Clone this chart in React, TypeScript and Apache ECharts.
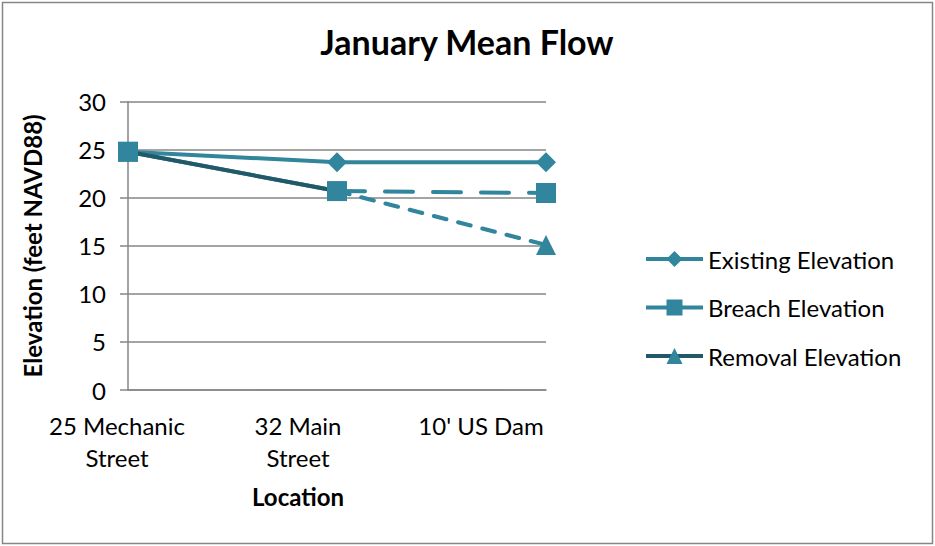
import React, { useEffect, useRef } from "react";
import * as echarts from "echarts";

const categories = ["25 Mechanic\nStreet", "32 Main\nStreet", "10' US Dam"];
const existing = [24.8, 23.7, 23.7];
const breach = [24.8, 20.7, 20.5];
const removal = [24.8, 20.7, 15.1];
const yTicks = { min: 0, max: 30, interval: 5 };
const seriesNames = ["Existing Elevation", "Breach Elevation", "Removal Elevation"];

const TEAL = "#31859C";
const DARK = "#215968";
const GRAY = "#868686";
const FONT = "Lato";
const FS = 24;
const labelShift = [22, 78, 130];

// first segment / second segment helpers built from the arrays
const seg1 = (a: number[]) => a.map((v, i) => (i <= 1 ? v : "-"));
const seg2 = (a: number[]) => a.map((v, i) => (i >= 1 ? v : "-"));

export default function App() {
  const ref = useRef<HTMLDivElement>(null);
  useEffect(() => {
    const chart = echarts.init(ref.current!, undefined, { renderer: "svg" });
    const lineOnly = (name: string, data: any[], color: string, type: any, z = 2) => ({
      name,
      type: "line",
      data,
      symbol: "none",
      z,
      lineStyle: { color, width: 4, type, cap: "round" },
      silent: true,
    });
    const markers = (name: string, data: number[], symbol: string) => ({
      name,
      type: "line",
      data,
      symbol,
      symbolSize: 20,
      showSymbol: true,
      z: 3,
      itemStyle: { color: TEAL, borderWidth: 0 },
      lineStyle: { width: 0, opacity: 0, color: TEAL },
    });
    const rich = (i: number) => ({
      fontFamily: FONT,
      fontSize: FS,
      color: "#000",
      lineHeight: 32,
      padding: [0, labelShift[i], 0, 0],
    });
    chart.setOption({
      animation: false,
      backgroundColor: "#fff",
      textStyle: { fontFamily: FONT },
      title: {
        text: "January Mean Flow",
        left: 467,
        textAlign: "center",
        top: 24,
        padding: 0,
        textStyle: { fontFamily: FONT, fontWeight: "bold", fontSize: 34, color: "#000" },
      },
      graphic: [
        {
          type: "rect",
          shape: { x: 2.5, y: 2.5, width: 930, height: 541 },
          style: { fill: "none", stroke: GRAY, lineWidth: 1.5 },
          silent: true,
        },
      ],
      legend: {
        left: 644,
        top: 247,
        padding: 0,
        orient: "vertical",
        itemWidth: 57,
        itemHeight: 20,
        itemGap: 24.5,
        textStyle: { fontFamily: FONT, fontSize: FS, color: "#000", lineHeight: 20 },
        data: [
          { name: seriesNames[0], lineStyle: { color: TEAL, width: 4, opacity: 1, type: "solid" } },
          { name: seriesNames[1], lineStyle: { color: TEAL, width: 4, opacity: 1, type: "solid" } },
          { name: seriesNames[2], lineStyle: { color: DARK, width: 4, opacity: 1, type: "solid" } },
        ],
      },
      grid: { left: 128, right: 389, top: 101.7, bottom: 156, containLabel: false },
      xAxis: {
        type: "category",
        data: categories,
        boundaryGap: false,
        name: "Location",
        nameLocation: "middle",
        nameGap: 94,
        nameTextStyle: {
          fontFamily: FONT,
          fontWeight: "bold",
          fontSize: FS,
          color: "#000",
          padding: [0, 78, 0, 0],
        },
        axisLine: { lineStyle: { color: GRAY, width: 1.5 } },
        axisTick: { show: false },
        axisLabel: {
          margin: 19,
          interval: 0,
          formatter: (v: string, i: number) =>
            v
              .split("\n")
              .map((s) => `{c${i}|${s}}`)
              .join("\n"),
          rich: { c0: rich(0), c1: rich(1), c2: rich(2) },
        },
        splitLine: { show: false },
      },
      yAxis: {
        type: "value",
        min: yTicks.min,
        max: yTicks.max,
        interval: yTicks.interval,
        name: "Elevation (feet NAVD88)",
        nameLocation: "middle",
        nameRotate: 90,
        nameGap: 84,
        nameTextStyle: { fontFamily: FONT, fontWeight: "bold", fontSize: FS, color: "#000" },
        axisLine: { show: true, lineStyle: { color: GRAY, width: 1.5 } },
        axisTick: { show: true, length: 8, lineStyle: { color: GRAY, width: 1.5 } },
        axisLabel: { margin: 22, fontFamily: FONT, fontSize: FS, color: "#000" },
        splitLine: { show: true, lineStyle: { color: GRAY, width: 1.5 } },
      },
      series: [
        lineOnly("l-existing", existing, TEAL, "solid"),
        lineOnly("l-breach1", seg1(breach), TEAL, "solid"),
        lineOnly("l-removal1", seg1(removal), DARK, "solid"),
        lineOnly("l-breach2", seg2(breach), TEAL, [28, 20]),
        lineOnly("l-removal2", seg2(removal), TEAL, [13, 12]),
        markers(seriesNames[0], existing, "diamond"),
        markers(seriesNames[2], removal, "triangle"),
        markers(seriesNames[1], breach, "rect"),
      ],
    });
    return () => chart.dispose();
  }, []);
  return (
    <div
      ref={ref}
      style={{ position: "fixed", left: 0, top: 0, width: 935, height: 546 }}
    />
  );
}
